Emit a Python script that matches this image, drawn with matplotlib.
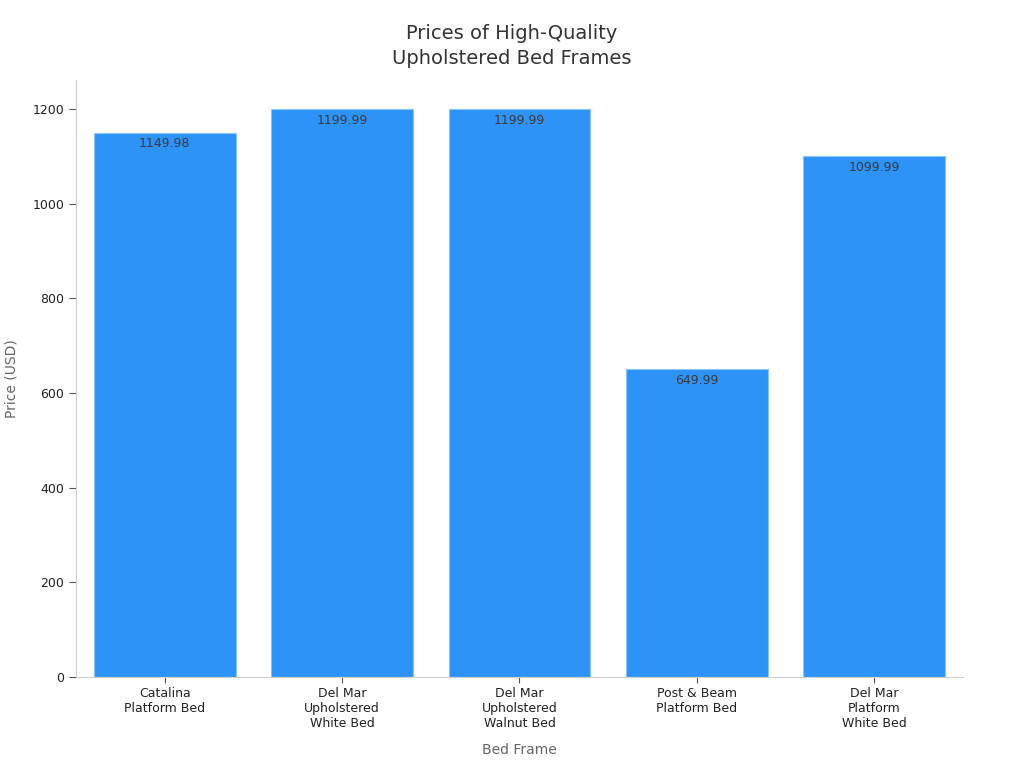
import matplotlib.pyplot as plt

# data
frames = ["Catalina\nPlatform Bed", "Del Mar\nUpholstered\nWhite Bed", "Del Mar\nUpholstered\nWalnut Bed",
          "Post & Beam\nPlatform Bed", "Del Mar\nPlatform\nWhite Bed"]
prices = [1149.98, 1199.99, 1199.99, 649.99, 1099.99]

fig = plt.figure(figsize=(10.24, 7.68), dpi=100)
ax = fig.add_axes([0.0742, 0.1185, 0.8662, 0.7773])

x = range(len(frames))
bars = ax.bar(x, prices, width=0.8, color="#2E93F9", edgecolor="#8CC4F7", linewidth=0.8)

# value labels just inside the top of each bar
for b, p in zip(bars, prices):
    ax.text(b.get_x() + b.get_width() / 2, p - 10, f"{p:.2f}", ha="center", va="top",
            fontsize=9, color="#3a3a3a")

ax.set_xlim(-0.5, 4.5)
ax.set_ylim(0, 1261)
ax.set_yticks([0, 200, 400, 600, 800, 1000, 1200])
ax.set_xticks(list(x))
ax.set_xticklabels(frames, fontsize=9, color="#222222")
ax.tick_params(axis="y", labelsize=9, labelcolor="#222222", color="#555555", length=5)
ax.tick_params(axis="x", color="#555555", length=4)

for s in ["top", "right"]:
    ax.spines[s].set_visible(False)
ax.spines["left"].set_color("#d0d0d0")
ax.spines["bottom"].set_color("#d0d0d0")

ax.set_xlabel("Bed Frame", fontsize=10, color="#666666", labelpad=9)
ax.set_ylabel("Price (USD)", fontsize=10, color="#666666", labelpad=10)
fig.text(0.5, 0.940, "Prices of High-Quality\nUpholstered Bed Frames", fontsize=14, color="#333333",
         ha="center", va="center", linespacing=1.45)

plt.savefig("out.png", dpi=100)
